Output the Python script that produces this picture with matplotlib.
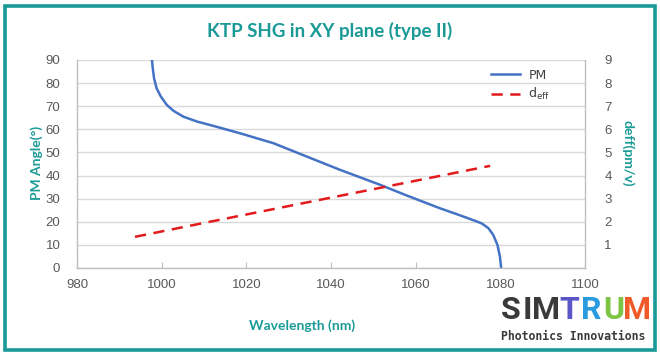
import matplotlib
matplotlib.use("Agg")
import matplotlib.pyplot as plt
from matplotlib.patches import Rectangle

# ---- data ----
pm_wavelength = [997.7, 997.9, 998.2, 998.8, 999.8, 1001.2, 1002.8, 1005.1,
                 1008.3, 1012.2, 1018.5, 1026.4, 1034.3, 1042.1, 1051.6,
                 1058.0, 1065.8, 1069.7, 1073.6, 1075.6, 1077.2, 1078.3,
                 1079.3, 1079.9, 1080.2]
pm_angle = [90.0, 86.4, 82.1, 77.8, 74.2, 70.6, 68.0, 65.5,
            63.4, 61.5, 58.3, 54.0, 48.2, 42.5, 36.0,
            31.3, 25.8, 23.3, 20.7, 19.3, 17.2, 14.4,
            10.1, 5.0, 0.0]
deff_wavelength = [993.7, 1010.0, 1030.0, 1050.0, 1077.6]
deff_value = [1.35, 1.95, 2.68, 3.41, 4.42]

x_ticks = [980, 1000, 1020, 1040, 1060, 1080, 1100]
left_ticks = [0, 10, 20, 30, 40, 50, 60, 70, 80, 90]
right_ticks = [1, 2, 3, 4, 5, 6, 7, 8, 9]

title = "KTP SHG in XY plane (type II)"
xlabel = "Wavelength (nm)"
ylabel_left = "PM Angle(°)"
ylabel_right = "deff(pm/v)"

TEAL = "#1a9a96"
GRAY = "#595959"
W, H = 660, 357

fig = plt.figure(figsize=(6.6, 3.57), dpi=100)
fig.patch.set_facecolor("white")

# outer border
fig.add_artist(Rectangle((5 / W, 7 / H), 650 / W, 344 / H, transform=fig.transFigure,
                         fill=False, edgecolor=TEAL, linewidth=2.6))

ax = fig.add_axes([77 / W, (H - 268) / H, 508 / W, 208 / H])
ax.plot(pm_wavelength, pm_angle, color="#4472C4", linewidth=1.8, label="PM",
        solid_joinstyle="round")
ax.set_xlim(980, 1100)
ax.set_ylim(0, 90)
ax.set_xticks(x_ticks)
ax.set_yticks(left_ticks)
ax.grid(axis="y", color="#d9d9d9", linewidth=1.0)
ax.set_axisbelow(True)
for s in ax.spines.values():
    s.set_color("#bfbfbf")
    s.set_linewidth(1.0)
ax.spines["top"].set_visible(False)
ax.tick_params(axis="x", direction="in", length=4, color="#bfbfbf", labelcolor=GRAY,
               labelsize=9.5, pad=8)
ax.tick_params(axis="y", length=0, labelcolor=GRAY, labelsize=9.5, pad=12)
for lab in ax.get_xticklabels() + ax.get_yticklabels():
    lab.set_family("Liberation Sans")

ax2 = ax.twinx()
ax2.plot(deff_wavelength, deff_value, color="#E31A1C", linewidth=1.8,
         linestyle=(0, (4.5, 3.0)), label=r"d$_{\rm eff}$")
ax2.set_ylim(0, 9)
ax2.set_yticks(right_ticks)
ax2.tick_params(axis="y", length=0, labelcolor=GRAY, labelsize=9.5, pad=14)
for lab in ax2.get_yticklabels():
    lab.set_family("Liberation Sans")
for s in ax2.spines.values():
    s.set_visible(False)

# legend
h1, l1 = ax.get_legend_handles_labels()
h2, l2 = ax2.get_legend_handles_labels()
leg = ax2.legend(h1 + h2, l1 + l2, loc="upper left", bbox_to_anchor=(405 / 508, 1.0),
                 frameon=False, fontsize=9, handlelength=2.3, handletextpad=0.7,
                 labelspacing=0.35, borderaxespad=0.3)
for t in leg.get_texts():
    t.set_color("#404040")

fig.text(330 / W, 1 - 31 / H, title, ha="center", va="center", color=TEAL,
         fontsize=13.5, fontweight="bold", family="Lato")
fig.text(302 / W, 1 - 326 / H, xlabel, ha="center", va="center", color=TEAL,
         fontsize=10, fontweight="bold", family="Lato")
fig.text(37 / W, 1 - 163 / H, ylabel_left, ha="center", va="center", color=TEAL,
         fontsize=10, fontweight="bold", family="Lato", rotation=90)
fig.text(628 / W, 1 - 153 / H, ylabel_right, ha="center", va="center", color=TEAL,
         fontsize=10, fontweight="bold", family="Lato", rotation=270)

# logo
logo_letters = ["S", "I", "M", "T", "R", "U", "M"]
logo_colors = ["#3a3a3a", "#3a3a3a", "#3a3a3a", "#5a56c8", "#2b9be0", "#7cc443", "#f05a28"]
logo_x = [511, 527, 546, 569, 591, 614, 637]
for ch, c, xx in zip(logo_letters, logo_colors, logo_x):
    fig.text(xx / W, 1 - 310 / H, ch, ha="center", va="center", color=c,
             fontsize=23, fontweight="bold", family="Roboto")
fig.text(573 / W, 1 - 337 / H, "Photonics Innovations", ha="center", va="center",
         color="#3a3a3a", fontsize=8.3, fontweight="bold", family="DejaVu Sans Mono")

fig.savefig("out.png", dpi=100, facecolor="white")
